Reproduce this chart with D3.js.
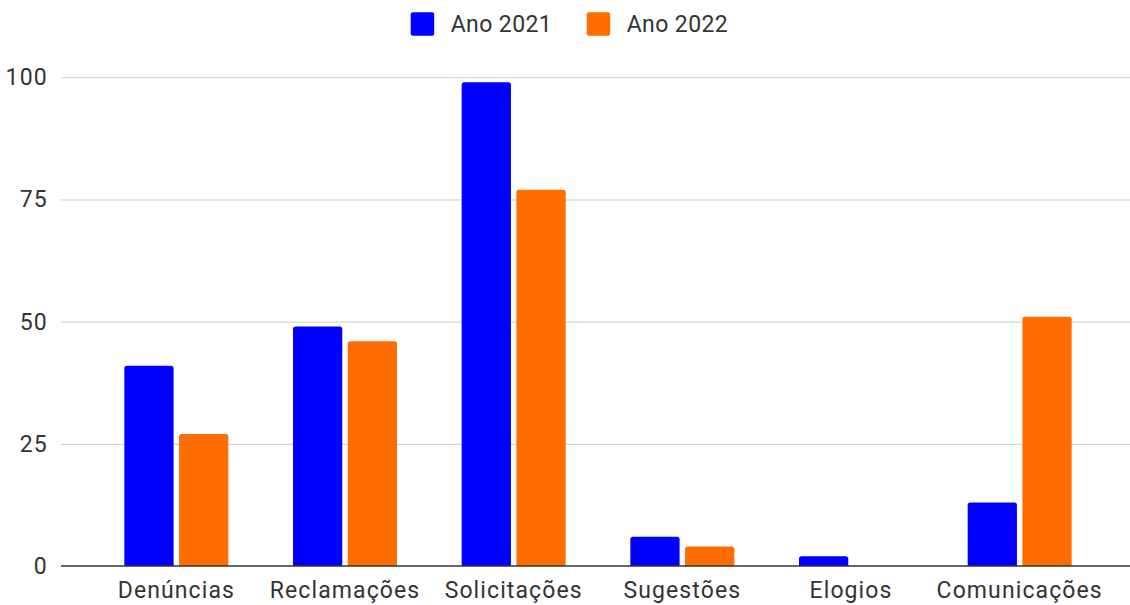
<!DOCTYPE html>
<html>
<head>
<meta charset="utf-8">
<script src="https://cdn.jsdelivr.net/npm/d3@7"></script>
<style>
  html, body { margin: 0; padding: 0; background: #fff; }
  svg { display: block; font-family: Roboto, "Noto Sans", sans-serif; }
</style>
</head>
<body>
<svg id="chart" width="1130" height="605"></svg>
<script>
const categories = ["Denúncias", "Reclamações", "Solicitações", "Sugestões", "Elogios", "Comunicações"];
const seriesNames = ["Ano 2021", "Ano 2022"];
const values2021 = [41, 49, 99, 6, 2, 13];
const values2022 = [27, 46, 77, 4, 0, 51];
const yTicks = [0, 25, 50, 75, 100];
const colors = ["#0000ff", "#ff6d01"];

const svg = d3.select("#chart");
const plotLeft = 61, plotRight = 1130;
const y = d3.scaleLinear().domain([0, 100]).range([566, 77.3]);
const x0 = d3.scaleBand().domain(categories).range([92, 1104]).padding(0);
const groupW = 104;
const x1 = d3.scaleBand().domain(seriesNames).range([0, groupW]).paddingInner(0.1);

const data = categories.map((c, i) => ({ cat: c, vals: [values2021[i], values2022[i]] }));

// gridlines + y labels
const yAxis = d3.axisLeft(y).tickValues(yTicks).tickSize(-(plotRight - plotLeft)).tickPadding(12);
const gy = svg.append("g").attr("transform", `translate(${plotLeft},0)`).call(yAxis);
gy.select(".domain").remove();
gy.selectAll(".tick line").attr("stroke", "#cccccc").attr("stroke-width", 1);
gy.selectAll(".tick text").attr("font-size", 23).attr("fill", "#333").attr("x", -13)
  .attr("font-family", "Roboto").attr("letter-spacing", "1.2px");
gy.selectAll(".tick").filter(d => d === 0).select("line").remove();

// bars
const groups = svg.append("g").selectAll("g").data(data).join("g")
  .attr("transform", d => `translate(${x0(d.cat) + x0.bandwidth() / 2 - groupW / 2},0)`);
groups.selectAll("path").data(d => d.vals.map((v, j) => ({ v, s: seriesNames[j], j })))
  .join("path")
  .attr("fill", d => colors[d.j])
  .attr("d", d => {
    if (d.v <= 0) return "";
    const x = x1(d.s), w = x1.bandwidth(), top = y(d.v), bot = y(0), r = 2.5;
    return `M${x},${bot} L${x},${top + r} Q${x},${top} ${x + r},${top} L${x + w - r},${top} Q${x + w},${top} ${x + w},${top + r} L${x + w},${bot} Z`;
  });

// baseline
svg.append("line").attr("x1", plotLeft).attr("x2", plotRight)
  .attr("y1", y(0)).attr("y2", y(0)).attr("stroke", "#333").attr("stroke-width", 1.3);

// x axis labels
const xAxis = d3.axisBottom(x0).tickSize(0).tickPadding(16);
const gx = svg.append("g").attr("transform", `translate(0,${y(0)})`).call(xAxis);
gx.select(".domain").remove();
gx.selectAll(".tick text").attr("font-size", 23).attr("fill", "#333")
  .attr("font-family", "Roboto").attr("letter-spacing", "1.1px");

// legend
const legendX = [410.7, 586.7];
const leg = svg.append("g").selectAll("g").data(seriesNames).join("g")
  .attr("transform", (d, i) => `translate(${legendX[i]},12.3)`);
leg.append("rect").attr("width", 23.5).attr("height", 23.5).attr("rx", 2)
  .attr("fill", (d, i) => colors[i]);
leg.append("text").attr("x", 40).attr("y", 20).attr("font-size", 23)
  .attr("fill", "#333").attr("font-family", "Roboto").attr("letter-spacing", "0.4px")
  .text(d => d);
</script>
</body>
</html>
